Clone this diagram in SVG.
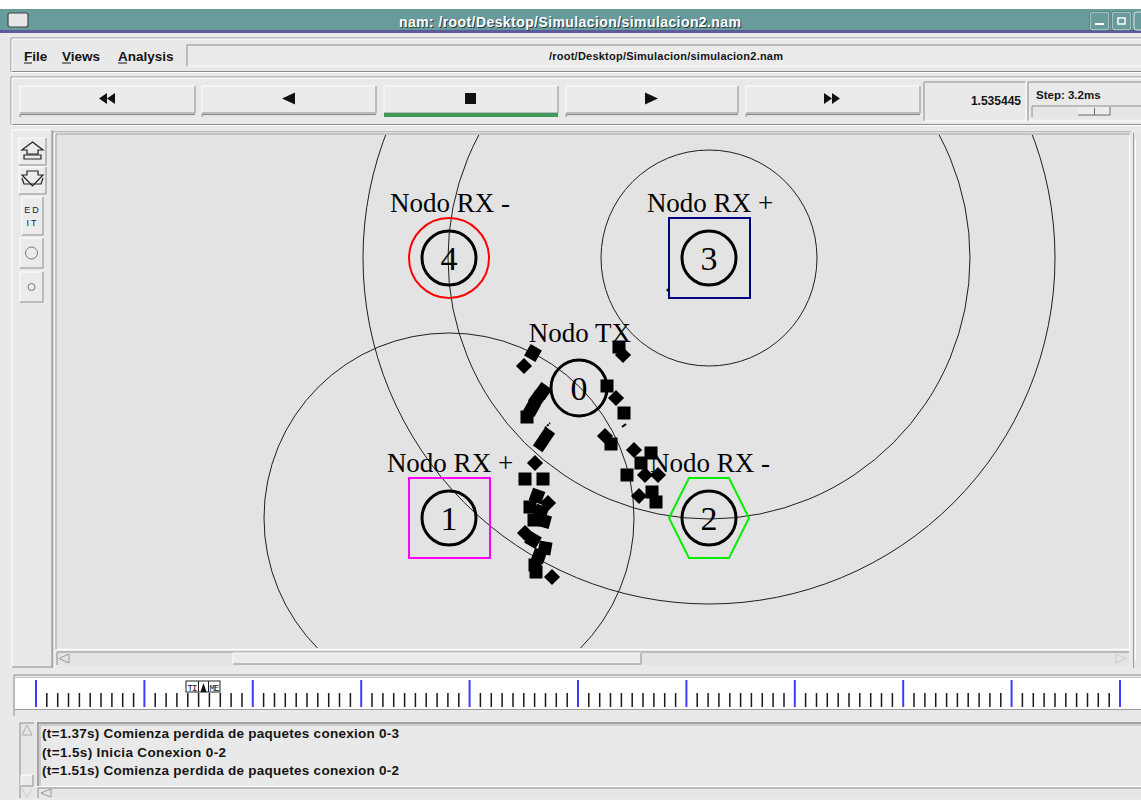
<svg xmlns="http://www.w3.org/2000/svg" width="1141" height="800" viewBox="0 0 1141 800">
<style>
.ui{font-family:"Liberation Sans",Arial,sans-serif;font-weight:bold;fill:#151515}
.lbl{font-family:"Liberation Serif","Times New Roman",serif;font-size:27px;fill:#000;text-anchor:middle}
.num{font-family:"Liberation Serif","Times New Roman",serif;font-size:34px;fill:#000;text-anchor:middle}
.nc{fill:none;stroke:#000;stroke-width:3}
.rng{fill:none;stroke:#1e1e1e;stroke-width:1}
.face{fill:#ebebeb}
.hl{stroke:#ffffff;stroke-width:1;fill:none}
.sh{stroke:#8c8c8c;stroke-width:1;fill:none}
.pk{fill:#000}
.maj{stroke:#3c3cff;stroke-width:2}
.min{stroke:#1a1a1a;stroke-width:1.5}
.ico{fill:#111}
.out{fill:none;stroke:#222;stroke-width:1.2}
</style>
<defs>
<clipPath id="cv"><rect x="57" y="135" width="1072" height="513"/></clipPath>
<rect id="s" x="-6.5" y="-6.5" width="13" height="13"/>
<rect id="d" x="-5.7" y="-5.7" width="11.4" height="11.4" transform="rotate(45)"/>
</defs>

<!-- window background -->
<rect x="0" y="0" width="1141" height="800" fill="#e9e9e9"/>
<rect x="0" y="0" width="1141" height="9" fill="#ffffff"/>

<!-- title bar -->
<g id="titlebar">
<rect x="0" y="9" width="1141" height="21" fill="#699b9b"/>
<rect x="0" y="30" width="1141" height="3" fill="#5c5c9c"/>
<rect x="8" y="13" width="20" height="14" rx="2" fill="#e6e6e6" stroke="#3a4a4a" stroke-width="1.2"/>
<text x="571" y="28" font-family="'Liberation Sans',Arial,sans-serif" font-weight="bold" font-size="14" fill="#2a3c3c" text-anchor="middle" textLength="342">nam: /root/Desktop/Simulacion/simulacion2.nam</text>
<text x="570" y="27" font-family="'Liberation Sans',Arial,sans-serif" font-weight="bold" font-size="14" fill="#ffffff" text-anchor="middle" textLength="342">nam: /root/Desktop/Simulacion/simulacion2.nam</text>
<rect x="1090" y="12" width="19" height="18" rx="3" fill="#699b9b" stroke="#d6e6e6" stroke-width="1"/>
<rect x="1089.5" y="11.5" width="20" height="19" rx="3" fill="none" stroke="#3a5a5a" stroke-width="0.6"/>
<rect x="1095" y="23" width="9" height="2" fill="#ffffff"/>
<rect x="1112" y="12" width="19" height="18" rx="3" fill="#699b9b" stroke="#d6e6e6" stroke-width="1"/>
<rect x="1111.5" y="11.5" width="20" height="19" rx="3" fill="none" stroke="#3a5a5a" stroke-width="0.6"/>
<rect x="1118" y="18" width="7" height="6" fill="none" stroke="#ffffff" stroke-width="1.5"/>
<rect x="1134" y="12" width="19" height="18" rx="3" fill="#699b9b" stroke="#d6e6e6" stroke-width="1"/>
</g>

<!-- menu bar -->
<g id="menubar">
<polyline points="11,72 11,38 1141,38" class="sh"/>
<polyline points="12,72 12,39 1141,39" class="hl"/>
<line x1="11" y1="72.5" x2="1141" y2="72.5" stroke="#ffffff"/>
<line x1="12" y1="71.5" x2="1141" y2="71.5" stroke="#8c8c8c"/>
<text x="24" y="61" class="ui" font-size="13.5">File</text>
<text x="62" y="61" class="ui" font-size="13.5">Views</text>
<text x="118" y="61" class="ui" font-size="13.5">Analysis</text>
<line x1="24" y1="63" x2="32" y2="63" stroke="#151515" stroke-width="1"/>
<line x1="62" y1="63" x2="71" y2="63" stroke="#151515" stroke-width="1"/>
<line x1="118" y1="63" x2="127" y2="63" stroke="#151515" stroke-width="1"/>
<rect x="187" y="45" width="960" height="21" fill="#ebebeb"/>
<polyline points="187,66 187,45 1141,45" class="sh"/>
<line x1="188" y1="66" x2="1141" y2="66" stroke="#ffffff"/>
<text x="666" y="60" class="ui" font-size="11" text-anchor="middle" textLength="234">/root/Desktop/Simulacion/simulacion2.nam</text>
</g>

<!-- toolbar -->
<g id="toolbar">
<polyline points="11,125 11,77 1141,77" class="sh"/>
<polyline points="12,125 12,78 1141,78" class="hl"/>
<line x1="11" y1="125.5" x2="1141" y2="125.5" stroke="#ffffff"/>
<line x1="12" y1="124.5" x2="1141" y2="124.5" stroke="#8c8c8c"/>

<g id="btn-rew">
<rect x="20" y="86" width="175" height="27" class="face"/>
<polyline points="20,113 20,86 195,86" class="hl"/><polyline points="20,113 195,113 195,86" class="sh"/>
<rect x="20" y="114" width="175" height="3" fill="#e4e4e4"/><polyline points="20,117 20,114.5 195,114.5" class="sh"/>
<path d="M99,98.5 L107,93 L107,104 Z M107,98.5 L115,93 L115,104 Z" class="ico"/>
</g>
<g id="btn-back">
<rect x="202" y="86" width="174" height="27" class="face"/>
<polyline points="202,113 202,86 376,86" class="hl"/><polyline points="202,113 376,113 376,86" class="sh"/>
<rect x="202" y="114" width="174" height="3" fill="#e4e4e4"/><polyline points="202,117 202,114.5 376,114.5" class="sh"/>
<path d="M282,98.5 L295,92.5 L295,104.5 Z" class="ico"/>
</g>
<g id="btn-stop">
<rect x="384" y="86" width="174" height="27" class="face"/>
<polyline points="384,113 384,86 558,86" class="hl"/><polyline points="384,113 558,113 558,86" class="sh"/>
<rect x="384" y="113" width="174" height="4" fill="#3f9a5c"/>
<rect x="465" y="93" width="11" height="11" class="ico"/>
</g>
<g id="btn-play">
<rect x="566" y="86" width="172" height="27" class="face"/>
<polyline points="566,113 566,86 738,86" class="hl"/><polyline points="566,113 738,113 738,86" class="sh"/>
<rect x="566" y="114" width="172" height="3" fill="#e4e4e4"/><polyline points="566,117 566,114.5 738,114.5" class="sh"/>
<path d="M645,92.5 L658,98.5 L645,104.5 Z" class="ico"/>
</g>
<g id="btn-ff">
<rect x="746" y="86" width="174" height="27" class="face"/>
<polyline points="746,113 746,86 920,86" class="hl"/><polyline points="746,113 920,113 920,86" class="sh"/>
<rect x="746" y="114" width="174" height="3" fill="#e4e4e4"/><polyline points="746,117 746,114.5 920,114.5" class="sh"/>
<path d="M824,93 L832,98.5 L824,104 Z M832,93 L840,98.5 L832,104 Z" class="ico"/>
</g>

<rect x="924" y="82" width="102" height="39" fill="#e9e9e9"/>
<polyline points="924,121 924,82 1026,82" class="sh"/><polyline points="924,121 1026,121 1026,82" class="hl"/>
<text x="1021" y="105" class="ui" font-size="12" text-anchor="end">1.535445</text>
<polyline points="1028,121 1028,82 1141,82" class="sh"/>
<line x1="1028" y1="121" x2="1141" y2="121" stroke="#ffffff"/>
<text x="1036" y="99" class="ui" font-size="11.5">Step: 3.2ms</text>
<rect x="1032" y="106" width="110" height="11" fill="#e6e6e6"/>
<polyline points="1032,117 1032,106 1141,106" class="sh"/>
<rect x="1078" y="107" width="32" height="8" fill="#ececec"/>
<polyline points="1078,115 1110,115 1110,107" stroke="#6a6a6a" fill="none"/>
<line x1="1094.5" y1="108" x2="1094.5" y2="115" stroke="#6a6a6a"/>
</g>

<!-- left tool panel -->
<g id="toolpanel">
<rect x="12" y="130" width="40" height="537" fill="#e9e9e9"/>
<polyline points="12,667 12,130 52,130" class="hl"/><polyline points="12,667 52,667 52,130" class="sh"/>
<g id="tb-zoomin">
<rect x="19" y="138" width="27" height="27" class="face"/>
<polyline points="19,165 19,138 46,138" class="hl"/><polyline points="19,165 46,165 46,138" class="sh"/>
<path d="M32.5,142 L43,150 L38,150 L38,154 L27,154 L27,150 L22,150 Z" class="out"/>
<path d="M24,155 L41,155 L41,159 L24,159 Z" class="out"/>
</g>
<g id="tb-zoomout">
<rect x="19" y="167" width="27" height="27" class="face"/>
<polyline points="19,194 19,167 46,167" class="hl"/><polyline points="19,194 46,194 46,167" class="sh"/>
<path d="M27,171 L38,171 L38,175 L43,175 L32.5,186 L22,175 L27,175 Z" class="out"/>
<path d="M22,178 L24,184 L41,184 L43,178" class="out"/>
</g>
<g id="tb-edit">
<rect x="22" y="197" width="21" height="38" class="face"/>
<polyline points="22,235 22,197 43,197" class="hl"/><polyline points="22,235 43,235 43,197" class="sh"/>
<text x="32.5" y="213" font-family="'Liberation Sans',Arial,sans-serif" font-size="9" fill="#222" text-anchor="middle" letter-spacing="2">ED</text>
<text x="32.5" y="226" font-family="'Liberation Sans',Arial,sans-serif" font-size="9" fill="#222" text-anchor="middle" letter-spacing="2">IT</text>
</g>
<g id="tb-circle">
<rect x="20" y="238" width="23" height="30" class="face"/>
<polyline points="20,268 20,238 43,238" class="hl"/><polyline points="20,268 43,268 43,238" class="sh"/>
<circle cx="31.5" cy="253" r="6" fill="none" stroke="#777" stroke-width="1"/>
</g>
<g id="tb-dot">
<rect x="20" y="272" width="23" height="30" class="face"/>
<polyline points="20,302 20,272 43,272" class="hl"/><polyline points="20,302 43,302 43,272" class="sh"/>
<circle cx="31.5" cy="287" r="3.5" fill="none" stroke="#777" stroke-width="1"/>
</g>
</g>

<!-- canvas frame -->
<g id="canvasframe">
<polyline points="53,668 53,132 1131,132" class="sh"/>
<polyline points="54,668 54,133 1131,133" class="hl"/>
<rect x="57" y="135" width="1072" height="513" fill="#e3e3e3"/>
<polyline points="56,649 56,134 1130,134" stroke="#9a9a9a" fill="none"/>
<line x1="57" y1="649.5" x2="1129" y2="649.5" stroke="#ffffff"/>
<line x1="1129.5" y1="135" x2="1129.5" y2="650" stroke="#ffffff"/>
<rect x="57" y="652" width="1072" height="13" fill="#e4e4e4"/>
<polyline points="57,665 57,652 1129,652" class="sh"/>
<path d="M59,658.5 L69,654 L69,663 Z" fill="none" stroke="#999" stroke-width="1"/>
<rect x="233" y="653" width="408" height="11" fill="#ebebeb"/>
<polyline points="233,664 233,653 641,653" class="hl"/><polyline points="233,664 641,664 641,653" class="sh"/>
<path d="M1126,658.5 L1116,654 L1116,663 Z" fill="none" stroke="#cccccc" stroke-width="1"/>
<rect x="1133" y="133" width="8" height="535" fill="#e6e6e6"/>
<line x1="1133.5" y1="133" x2="1133.5" y2="668" stroke="#9a9a9a"/>
<line x1="1135.5" y1="140" x2="1135.5" y2="660" stroke="#ffffff"/>
</g>

<!-- range circles -->
<g id="ranges" clip-path="url(#cv)">
<circle cx="709" cy="258" r="108" class="rng"/>
<circle cx="709" cy="258" r="261" class="rng"/>
<circle cx="709" cy="258" r="346" class="rng"/>
<circle cx="449" cy="518" r="185" class="rng"/>
</g>

<!-- nodes -->
<g id="node4">
<circle cx="449" cy="258" r="40" fill="none" stroke="#ff0000" stroke-width="2"/>
<circle cx="449" cy="258" r="27" class="nc"/>
<text x="449" y="270" class="num">4</text>
<text x="450" y="212" class="lbl">Nodo RX -</text>
</g>
<g id="node3">
<rect x="669" y="218" width="81" height="80" fill="none" stroke="#00007f" stroke-width="2"/>
<circle cx="709" cy="258" r="27" class="nc"/>
<text x="709" y="270" class="num">3</text>
<text x="710" y="212" class="lbl">Nodo RX +</text>
</g>
<g id="node0">
<circle cx="579" cy="388" r="28" class="nc"/>
<text x="579" y="400" class="num">0</text>
<text x="580" y="342" class="lbl">Nodo TX</text>
</g>
<g id="node1">
<rect x="409" y="478" width="81" height="80" fill="none" stroke="#ff00ff" stroke-width="2"/>
<circle cx="449" cy="518" r="27" class="nc"/>
<text x="449" y="530" class="num">1</text>
<text x="450" y="472" class="lbl">Nodo RX +</text>
</g>
<g id="node2">
<polygon points="669,518 689,478 729,478 749,518 729,558 689,558" fill="none" stroke="#00ee00" stroke-width="2"/>
<circle cx="709" cy="518" r="27" class="nc"/>
<text x="709" y="530" class="num">2</text>
<text x="710" y="472" class="lbl">Nodo RX -</text>
</g>

<!-- packets -->
<g id="packets" class="pk">
<use href="#s" transform="translate(533,353) rotate(30)"/>
<use href="#d" transform="translate(524,366)"/>
<use href="#s" transform="translate(543,391) rotate(35)"/>
<use href="#s" transform="translate(537,399) rotate(35)"/>
<use href="#s" transform="translate(532,408) rotate(30)"/>
<use href="#s" transform="translate(527,417)"/>
<line x1="545" y1="428" x2="550" y2="423" stroke="#000" stroke-width="2" stroke-dasharray="2,1"/>
<use href="#s" transform="translate(547,435) rotate(35) scale(0.9)"/>
<use href="#s" transform="translate(541,444) rotate(35) scale(0.9)"/>
<use href="#d" transform="translate(535,463)"/>
<use href="#s" transform="translate(525,479)"/>
<use href="#s" transform="translate(543,479)"/>
<use href="#s" transform="translate(537,496) rotate(20)"/>
<use href="#d" transform="translate(548,503)"/>
<use href="#s" transform="translate(530,507)"/>
<use href="#s" transform="translate(541,512) rotate(20)"/>
<use href="#s" transform="translate(534,520)"/>
<use href="#s" transform="translate(544,521) rotate(15)"/>
<use href="#d" transform="translate(525,533)"/>
<use href="#s" transform="translate(533,540) rotate(30)"/>
<use href="#s" transform="translate(545,548) rotate(10)"/>
<use href="#s" transform="translate(539,556) rotate(20)"/>
<use href="#s" transform="translate(535,565)"/>
<use href="#s" transform="translate(536,572)"/>
<use href="#d" transform="translate(552,577)"/>

<use href="#s" transform="translate(619,347)"/>
<use href="#d" transform="translate(623,355)"/>
<use href="#s" transform="translate(607,386)"/>
<use href="#d" transform="translate(616,398)"/>
<use href="#s" transform="translate(624,413)"/>
<line x1="622" y1="427" x2="626" y2="424" stroke="#000" stroke-width="2"/>
<use href="#d" transform="translate(605,436)"/>
<use href="#s" transform="translate(611,444)"/>
<use href="#d" transform="translate(634,450)"/>
<use href="#s" transform="translate(651,453)"/>
<use href="#s" transform="translate(641,463)"/>
<use href="#s" transform="translate(627,475)"/>
<use href="#d" transform="translate(645,475)"/>
<use href="#d" transform="translate(658,475)"/>
<use href="#d" transform="translate(639,496)"/>
<use href="#s" transform="translate(652,492)"/>
<use href="#s" transform="translate(656,502)"/>
<circle cx="668" cy="290" r="1.6"/>
</g>

<!-- timeline -->
<g id="timeline">
<polyline points="14,716 14,675 1141,675" class="sh"/>
<rect x="15" y="678" width="1126" height="31" fill="#ffffff"/>
<line x1="15" y1="709.5" x2="1141" y2="709.5" stroke="#9a9a9a"/>
<line x1="15" y1="677.5" x2="1141" y2="677.5" stroke="#c8c8c8"/>
<g class="maj">
<line x1="36" y1="680" x2="36" y2="707"/><line x1="144.4" y1="680" x2="144.4" y2="707"/>
<line x1="252.8" y1="680" x2="252.8" y2="707"/><line x1="361.2" y1="680" x2="361.2" y2="707"/>
<line x1="469.6" y1="680" x2="469.6" y2="707"/><line x1="578" y1="680" x2="578" y2="707"/>
<line x1="686.4" y1="680" x2="686.4" y2="707"/><line x1="794.8" y1="680" x2="794.8" y2="707"/>
<line x1="903.2" y1="680" x2="903.2" y2="707"/><line x1="1011.6" y1="680" x2="1011.6" y2="707"/>
<line x1="1120" y1="680" x2="1120" y2="707"/>
</g>
<path class="min" d="M46.8,693V707M57.7,693V707M68.5,693V707M79.4,693V707M90.2,693V707M101,693V707M111.9,693V707M122.7,693V707M133.6,693V707
M155.2,693V707M166.1,693V707M176.9,693V707M187.8,693V707M198.6,693V707M209.4,693V707M220.3,693V707M231.1,693V707M242,693V707
M263.6,693V707M274.5,693V707M285.3,693V707M296.2,693V707M307,693V707M317.8,693V707M328.7,693V707M339.5,693V707M350.4,693V707
M372,693V707M382.9,693V707M393.7,693V707M404.6,693V707M415.4,693V707M426.2,693V707M437.1,693V707M447.9,693V707M458.8,693V707
M480.4,693V707M491.3,693V707M502.1,693V707M513,693V707M523.8,693V707M534.6,693V707M545.5,693V707M556.3,693V707M567.2,693V707
M588.8,693V707M599.7,693V707M610.5,693V707M621.4,693V707M632.2,693V707M643,693V707M653.9,693V707M664.7,693V707M675.6,693V707
M697.2,693V707M708.1,693V707M718.9,693V707M729.8,693V707M740.6,693V707M751.4,693V707M762.3,693V707M773.1,693V707M784,693V707
M805.6,693V707M816.5,693V707M827.3,693V707M838.2,693V707M849,693V707M859.8,693V707M870.7,693V707M881.5,693V707M892.4,693V707
M914,693V707M924.9,693V707M935.7,693V707M946.6,693V707M957.4,693V707M968.2,693V707M979.1,693V707M989.9,693V707M1000.8,693V707
M1022.4,693V707M1033.3,693V707M1044.1,693V707M1055,693V707M1065.8,693V707M1076.6,693V707M1087.5,693V707M1098.3,693V707M1109.2,693V707"/>
<g id="timemarker">
<rect x="186" y="681" width="34" height="11" fill="#ffffff" stroke="#222" stroke-width="1"/>
<line x1="198.5" y1="681" x2="198.5" y2="692" stroke="#222" stroke-width="1"/>
<line x1="208.5" y1="681" x2="208.5" y2="692" stroke="#222" stroke-width="1"/>
<text x="187.5" y="690.5" font-family="'Liberation Mono','Courier New',monospace" font-size="9" fill="#111" textLength="10">TI</text>
<text x="209.5" y="690.5" font-family="'Liberation Mono','Courier New',monospace" font-size="9" fill="#111" textLength="10">ME</text>
<path d="M203.5,683 L206.5,692 L200.5,692 Z" fill="#111"/>
</g>
</g>

<!-- log area -->
<g id="log">
<rect x="20" y="723" width="14" height="75" fill="#e6e6e6"/>
<polyline points="20,798 20,723 34,723" class="sh"/>
<path d="M22,735 L27,725 L32,735 Z" fill="none" stroke="#aaa" stroke-width="1"/>
<rect x="21" y="775" width="12" height="11" fill="#ebebeb"/>
<polyline points="21,786 21,775 33,775" class="hl"/><polyline points="21,786 33,786 33,775" class="sh"/>
<path d="M22,789 L27,797 L32,789" fill="none" stroke="#ccc" stroke-width="1"/>
<rect x="38" y="723" width="1103" height="63" fill="#e9e9e9"/>
<polyline points="38,786 38,723 1141,723" stroke="#8c8c8c" stroke-width="1.5" fill="none"/>
<polyline points="40,786 40,725 1141,725" stroke="#b0b0b0" stroke-width="1" fill="none"/>
<line x1="38" y1="786.5" x2="1141" y2="786.5" stroke="#ffffff"/>
<text x="42" y="738" class="ui" font-size="13.5" textLength="357">(t=1.37s) Comienza perdida de paquetes conexion 0-3</text>
<text x="42" y="757" class="ui" font-size="13.5" textLength="184">(t=1.5s) Inicia Conexion 0-2</text>
<text x="42" y="775" class="ui" font-size="13.5" textLength="357">(t=1.51s) Comienza perdida de paquetes conexion 0-2</text>
<rect x="38" y="788" width="1103" height="10" fill="#e6e6e6"/>
<polyline points="38,798 38,788 1141,788" class="sh"/>
<path d="M41,793 L51,789 L51,797 Z" fill="none" stroke="#999" stroke-width="1"/>
</g>
</svg>
